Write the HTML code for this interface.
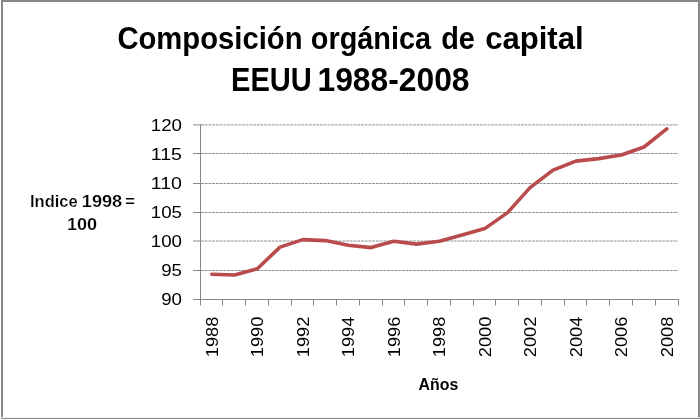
<!DOCTYPE html>
<html><head><meta charset="utf-8">
<style>
html,body{margin:0;padding:0;background:#fff;}
body{width:700px;height:419px;overflow:hidden;position:relative;}
svg{position:absolute;left:0;top:0;will-change:transform;}
text{font-family:"Liberation Sans",sans-serif;}
</style></head>
<body>
<svg width="700" height="419" viewBox="0 0 700 419">
  <rect x="0" y="0" width="700" height="419" fill="#fff"/>
  <!-- border -->
  <rect x="1" y="0" width="699" height="2" fill="#878787"/>
  <rect x="1" y="0" width="2" height="419" fill="#878787"/>
  <rect x="698" y="0" width="2" height="419" fill="#878787"/>
  <rect x="1" y="418" width="699" height="1" fill="#878787"/>
  <rect x="1" y="417" width="699" height="1" fill="#f2f2f2"/>

  <!-- gridlines -->
  <g stroke="#8a8a8a" stroke-width="1" fill="none">
    <line x1="193" y1="124.9" x2="201" y2="124.9"/>
    <line x1="193" y1="153.5" x2="201" y2="153.5"/>
    <line x1="193" y1="183.5" x2="201" y2="183.5"/>
    <line x1="193" y1="212.5" x2="201" y2="212.5"/>
    <line x1="193" y1="241.0" x2="201" y2="241.0"/>
    <line x1="193" y1="270.5" x2="201" y2="270.5"/>
  </g>
  <g stroke="#8f8f8f" stroke-width="1" fill="none" stroke-dasharray="2.85 0.87">
    <line x1="201" y1="124.9" x2="678" y2="124.9"/>
    <line x1="201" y1="153.5" x2="678" y2="153.5"/>
    <line x1="201" y1="183.5" x2="678" y2="183.5"/>
    <line x1="201" y1="212.5" x2="678" y2="212.5"/>
    <line x1="201" y1="241.0" x2="678" y2="241.0"/>
    <line x1="201" y1="270.5" x2="678" y2="270.5"/>
  </g>
  <!-- axes -->
  <g stroke="#868686" stroke-width="1" fill="none">
    <line x1="200.5" y1="124.4" x2="200.5" y2="305.5"/>
    <line x1="193" y1="299.5" x2="679" y2="299.5"/>
    <path d="M222.5 299 V305.5 M245.5 299 V305.5 M268.5 299 V305.5 M291.5 299 V305.5 M313.5 299 V305.5 M336.5 299 V305.5 M359.5 299 V305.5 M382.5 299 V305.5 M404.5 299 V305.5 M427.5 299 V305.5 M450.5 299 V305.5 M473.5 299 V305.5 M495.5 299 V305.5 M518.5 299 V305.5 M541.5 299 V305.5 M564.5 299 V305.5 M586.5 299 V305.5 M609.5 299 V305.5 M632.5 299 V305.5 M655.5 299 V305.5 M678.5 299 V305.5"/>
  </g>

  <!-- series -->
  <polyline fill="none" stroke="#b94b4c" stroke-width="3.6" stroke-linejoin="round" stroke-linecap="round"
    points="211.80,274.2 234.55,275.0 257.30,268.7 280.05,247.1 302.80,239.6 325.55,240.6 348.30,245.2 371.05,247.6 393.80,241.3 416.55,244.1 439.30,241.2 462.05,234.9 484.80,228.6 507.55,212.6 530.30,187.4 553.05,170.1 575.80,161.1 598.55,158.6 621.30,155.0 644.05,147.0 666.80,128.9"/>

  <!-- title -->
  <g font-weight="bold" fill="#000" font-size="32.4" lengthAdjust="spacingAndGlyphs">
    <text x="117.4" y="49" textLength="185.1" lengthAdjust="spacingAndGlyphs" font-size="31">Composición</text>
    <text x="310.8" y="49" textLength="120.3" lengthAdjust="spacingAndGlyphs" font-size="31">orgánica</text>
    <text x="441.2" y="49" textLength="33.76" lengthAdjust="spacingAndGlyphs" font-size="31">de</text>
    <text x="485.2" y="49" textLength="98.4" lengthAdjust="spacingAndGlyphs" font-size="31">capital</text>
    <text x="231.0" y="90.6" textLength="80.8" lengthAdjust="spacingAndGlyphs">EEUU</text>
    <text x="317.5" y="90.6" textLength="152" lengthAdjust="spacingAndGlyphs">1988-2008</text>
  </g>

  <!-- y axis title -->
  <g font-weight="bold" fill="#000" font-size="17" stroke="#fff" stroke-width="0.2">
    <text x="30.0" y="206.8" textLength="47.6" lengthAdjust="spacingAndGlyphs">Indice</text>
    <text x="81.8" y="206.8" textLength="40.36" lengthAdjust="spacingAndGlyphs">1998</text>
    <text x="125.2" y="206.8" textLength="9.63" lengthAdjust="spacingAndGlyphs">=</text>
    <text x="66.9" y="230" textLength="30.17" lengthAdjust="spacingAndGlyphs">100</text>
  </g>
  <!-- x axis title -->
  <text x="418.5" y="389.7" font-weight="bold" font-size="17" fill="#000" textLength="39.8" lengthAdjust="spacingAndGlyphs">Años</text>

  <!-- y tick labels -->
  <g font-size="17" fill="#000" text-anchor="end">
    <text x="182" y="130.9" textLength="31.2" lengthAdjust="spacingAndGlyphs">120</text>
    <text x="182" y="159.5" textLength="31.2" lengthAdjust="spacingAndGlyphs">115</text>
    <text x="182" y="189.0" textLength="31.2" lengthAdjust="spacingAndGlyphs">110</text>
    <text x="182" y="217.9" textLength="31.2" lengthAdjust="spacingAndGlyphs">105</text>
    <text x="182" y="246.9" textLength="31.2" lengthAdjust="spacingAndGlyphs">100</text>
    <text x="182" y="276.0" textLength="20.8" lengthAdjust="spacingAndGlyphs">95</text>
    <text x="182" y="305.1" textLength="20.8" lengthAdjust="spacingAndGlyphs">90</text>
  </g>

  <!-- x tick labels (rotated) -->
  <g font-size="17" fill="#000" text-anchor="end">
    <text transform="translate(217.9,316.6) rotate(-90)" textLength="40.6" lengthAdjust="spacingAndGlyphs">1988</text>
    <text transform="translate(263.4,316.6) rotate(-90)" textLength="40.6" lengthAdjust="spacingAndGlyphs">1990</text>
    <text transform="translate(308.9,316.6) rotate(-90)" textLength="40.6" lengthAdjust="spacingAndGlyphs">1992</text>
    <text transform="translate(354.4,316.6) rotate(-90)" textLength="40.6" lengthAdjust="spacingAndGlyphs">1994</text>
    <text transform="translate(399.9,316.6) rotate(-90)" textLength="40.6" lengthAdjust="spacingAndGlyphs">1996</text>
    <text transform="translate(445.4,316.6) rotate(-90)" textLength="40.6" lengthAdjust="spacingAndGlyphs">1998</text>
    <text transform="translate(490.9,316.6) rotate(-90)" textLength="40.6" lengthAdjust="spacingAndGlyphs">2000</text>
    <text transform="translate(536.4,316.6) rotate(-90)" textLength="40.6" lengthAdjust="spacingAndGlyphs">2002</text>
    <text transform="translate(581.9,316.6) rotate(-90)" textLength="40.6" lengthAdjust="spacingAndGlyphs">2004</text>
    <text transform="translate(627.4,316.6) rotate(-90)" textLength="40.6" lengthAdjust="spacingAndGlyphs">2006</text>
    <text transform="translate(672.9,316.6) rotate(-90)" textLength="40.6" lengthAdjust="spacingAndGlyphs">2008</text>
  </g>
</svg>
</body></html>
